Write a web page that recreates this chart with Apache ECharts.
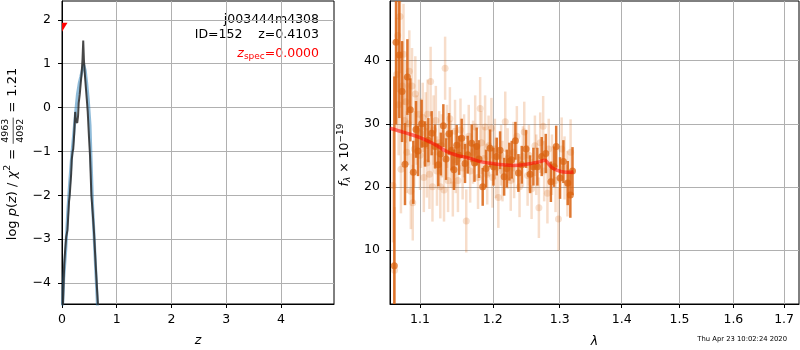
<!DOCTYPE html>
<html>
<head>
<meta charset="utf-8">
<script src="https://cdn.jsdelivr.net/npm/echarts@6/dist/echarts.min.js"></script>
<style>
html, body { margin: 0; padding: 0; background: #fff; }
#chart { width: 800px; height: 350px; }
</style>
</head>
<body>
<div id="chart"></div>
<script>
// ---- p(z) panel -------------------------------------------------------
const pzZ = [0.013, 0.018, 0.040, 0.055, 0.077, 0.099, 0.113, 0.128, 0.141, 0.168, 0.177, 0.194, 0.205,
  0.223, 0.241, 0.254, 0.278, 0.293, 0.305, 0.324, 0.342, 0.360, 0.375, 0.388, 0.400, 0.415, 0.433,
  0.452, 0.470, 0.494, 0.512, 0.537, 0.561, 0.585, 0.616, 0.638, 0.653, 0.662];
const pzLog = [-4.6, -4.45, -3.6, -3.3, -2.95, -2.8, -2.5, -2.15, -2.0, -1.5, -1.2, -1.0, -0.95,
  -0.6, -0.1, -0.3, -0.35, -0.2, 0.1, 0.3, 0.55, 0.8, 1.1, 1.53, 1.1, 0.8, 0.5,
  0.2, -0.1, -0.7, -1.1, -2.0, -2.4, -2.85, -3.6, -4.1, -4.1, -4.6];

const priorZ = [0.009, 0.031, 0.068, 0.104, 0.141, 0.177, 0.214, 0.250, 0.282, 0.314, 0.342, 0.369,
  0.397, 0.424, 0.452, 0.479, 0.512, 0.534, 0.561, 0.589, 0.616, 0.640, 0.653];
const priorLog = [-4.6, -3.9, -3.25, -2.4, -1.7, -1.1, -0.6, -0.1, 0.3, 0.55, 0.7, 0.85,
  0.98, 0.85, 0.55, 0.2, -0.4, -1.3, -2.3, -3.0, -3.7, -4.3, -4.7];

const zSpec = [0.0, 1.83];
const zTicks = [0, 1, 2, 3, 4];
const logpTicks = [-4, -3, -2, -1, 0, 1, 2];

// ---- spectrum panel ---------------------------------------------------
const darkWave = [1.0667, 1.0689, 1.0731, 1.0766, 1.0804, 1.0835, 1.0873, 1.0912, 1.0947, 1.0973,
  1.1021, 1.1066, 1.1110, 1.1154, 1.1199, 1.1243, 1.1277, 1.1311, 1.1347, 1.1388, 1.1424, 1.1456,
  1.1493, 1.1527, 1.1562, 1.1608, 1.1645, 1.1701, 1.1740, 1.1771, 1.1804, 1.1856, 1.1904, 1.1961,
  1.2009, 1.2057, 1.2105, 1.2164, 1.2202, 1.2240, 1.2275, 1.2329, 1.2373, 1.2423, 1.2487, 1.2547,
  1.2597, 1.2657, 1.2723, 1.2785, 1.2863, 1.2912, 1.2945, 1.3005, 1.3057, 1.3125, 1.3166, 1.3200];
const darkFlux = [7.5, 42.9, 40.9, 35.1, 23.6, 37.4, 32.2, 22.3, 29.1, 25.7,
  30.0, 26.8, 27.4, 28.5, 26.4, 23.5, 25.2, 29.7, 24.4, 28.4, 25.8, 22.7,
  26.6, 25.0, 27.7, 23.7, 25.1, 26.9, 23.8, 26.4, 24.4, 20.0, 22.9, 26.1,
  23.2, 24.8, 25.8, 21.6, 22.9, 24.0, 24.3, 27.3, 22.2, 23.5, 26.0, 22.0,
  23.2, 23.2, 24.8, 25.3, 20.8, 23.2, 26.4, 21.4, 24.0, 20.6, 18.7, 22.5];
const darkErr = [30, 13, 10, 8, 6.5, 6, 5, 5, 4.5, 4,
  3.8, 3.6, 3.5, 3.5, 3.5, 3.4, 3.4, 3.4, 3.3, 3.3, 3.2, 3.2,
  3.2, 3.1, 3.1, 3.1, 3.0, 3.0, 3.0, 3.0, 3.0, 3.0, 3.0, 3.0,
  3.0, 3.0, 3.0, 3.0, 3.0, 3.0, 3.0, 3.0, 3.0, 3.0, 3.0, 3.0,
  3.0, 3.0, 3.1, 3.1, 3.2, 3.2, 3.3, 3.3, 3.4, 3.5, 3.6, 3.8];

const lightWave = [1.0650, 1.0670, 1.0695, 1.0710, 1.0722, 1.0740, 1.0752, 1.0770, 1.0785, 1.0798,
  1.0815, 1.0828, 1.0848, 1.0860, 1.0880, 1.0895, 1.0905, 1.0925, 1.0938, 1.0958, 1.0985, 1.1000,
  1.1012, 1.1035, 1.1050, 1.1075, 1.1090, 1.1100, 1.1125, 1.1140, 1.1165, 1.1180, 1.1210, 1.1225,
  1.1255, 1.1270, 1.1290, 1.1320, 1.1335, 1.1360, 1.1375, 1.1400, 1.1415, 1.1440, 1.1470, 1.1480,
  1.1510, 1.1545, 1.1575, 1.1595, 1.1625, 1.1660, 1.1680, 1.1720, 1.1750, 1.1790, 1.1820, 1.1840,
  1.1875, 1.1890, 1.1920, 1.1940, 1.1980, 1.1995, 1.2030, 1.2045, 1.2080, 1.2120, 1.2140, 1.2180,
  1.2215, 1.2260, 1.2300, 1.2310, 1.2350, 1.2390, 1.2440, 1.2460, 1.2510, 1.2530, 1.2570, 1.2620,
  1.2640, 1.2680, 1.2700, 1.2745, 1.2760, 1.2810, 1.2830, 1.2880, 1.2935, 1.2980, 1.3030, 1.3075,
  1.3120, 1.3170];
const lightFlux = [20.2, 6.8, 37.8, 44.0, 33.0, 47.0, 22.8, 36.0, 41.0, 30.5,
  33.5, 25.5, 30.0, 38.3, 19.3, 36.0, 17.5, 26.0, 34.7, 29.0, 31.5, 25.0,
  28.5, 31.0, 21.5, 29.5, 23.8, 31.5, 22.0, 36.7, 20.0, 29.0, 30.5, 22.5,
  27.0, 20.0, 26.5, 19.5, 38.8, 28.0, 21.0, 30.8, 25.5, 20.3, 28.8, 24.0,
  21.0, 29.0, 23.0, 26.5, 14.6, 28.0, 22.5, 25.5, 29.5, 21.5, 32.4, 27.0,
  24.5, 29.5, 22.0, 26.5, 29.3, 21.5, 26.0, 23.0, 18.3, 25.0, 22.5, 30.3,
  24.5, 21.0, 25.5, 23.0, 28.0, 20.0, 24.8, 28.7, 21.8, 25.0, 19.7, 26.5,
  23.5, 16.7, 27.0, 29.6, 22.5, 19.0, 26.0, 23.5, 21.0, 14.9, 26.0, 23.0,
  20.5, 25.5];
const lightErr = [9, 10, 9, 9, 8, 9, 7, 7, 8, 7,
  6.5, 6.5, 6.5, 6.5, 6, 6, 6, 6, 6, 5.5, 5.5, 5.5,
  5.5, 5.5, 5.5, 5.5, 5.5, 5.5, 5.5, 5.5, 5.5, 5.5, 5.5, 5.5,
  5, 5, 5, 5, 5, 5, 5, 5, 5, 5, 5, 5,
  5, 5, 5, 5, 5, 5, 5, 5, 5, 5, 5, 5,
  5, 5, 4.8, 4.8, 4.8, 4.8, 4.8, 4.8, 4.8, 4.8, 4.8, 4.8,
  4.8, 4.8, 4.8, 4.8, 4.8, 4.8, 4.8, 4.8, 4.8, 4.8, 4.8, 4.8,
  4.8, 4.8, 4.8, 4.8, 4.8, 4.8, 4.8, 4.8, 5, 5, 5, 5,
  5.2, 5.2];

const modelWave = [1.0610, 1.0634, 1.0800, 1.1000, 1.1200, 1.1357, 1.1500, 1.1650, 1.1819, 1.2000,
  1.2151, 1.2300, 1.2447, 1.2600, 1.2700, 1.2770, 1.2830, 1.2900, 1.3032, 1.3150, 1.3214];
const modelFlux = [29.3, 29.2, 28.6, 27.8, 26.7, 25.6, 25.0, 24.6, 24.0, 23.7,
  23.5, 23.4, 23.5, 23.8, 24.0, 24.2, 23.6, 22.9, 22.4, 22.3, 22.4];

const waveTicks = [1.1, 1.2, 1.3, 1.4, 1.5, 1.6, 1.7];
const fluxTicks = [10, 20, 30, 40];

// ---- helpers ------------------------------------------------------------
const FONT = '"DejaVu Sans", sans-serif';
const FS = 12.5;
const ORANGE = '217,98,15';
const lg = Math.log10;

// wavelength axis is logarithmic: plot log10(lambda) on a value axis
const toXY = (xs, ys) => xs.map((x, i) => [lg(x), ys[i]]);
const toXYE = (xs, ys, es) => xs.map((x, i) => [lg(x), ys[i], es[i]]);
const pairs = (xs, ys) => xs.map((x, i) => [x, ys[i]]);

const FLUX_MIN = 1.44, FLUX_MAX = 49.45;

const ctx2d = document.createElement('canvas').getContext('2d');
function fontOf(size, italic) { return (italic ? 'italic ' : '') + size + 'px ' + FONT; }
function textWidth(t, size, italic) { ctx2d.font = fontOf(size, italic); return ctx2d.measureText(t).width; }
function txt(t, x, y, size, italic, color, align) {
  return {
    type: 'text', x: x, y: y, silent: true,
    style: {
      text: t, font: fontOf(size, italic), fill: color,
      textAlign: align || 'left', textVerticalAlign: 'middle',
      align: align || 'left', verticalAlign: 'middle'
    }
  };
}
// label made of pieces (italic, sub/superscripts, stacked fractions)
function mathLabel(pieces, x, y, opt) {
  opt = opt || {};
  const base = opt.size || FS;
  const kids = [];
  let cx = 0;
  pieces.forEach(p => {
    const size = p.size || base;
    const color = p.color || opt.color || '#000';
    if (p.num !== undefined) {
      const w = Math.max(textWidth(p.num, size), textWidth(p.den, size)) + 2;
      kids.push(txt(p.num, cx + w / 2, -0.55 * base, size, false, color, 'center'));
      kids.push(txt(p.den, cx + w / 2, 0.6 * base, size, false, color, 'center'));
      kids.push({ type: 'line', silent: true, shape: { x1: cx, y1: 0.2, x2: cx + w, y2: 0.2 },
        style: { stroke: color, lineWidth: 0.7 } });
      cx += w;
    } else if (p.gap !== undefined) {
      cx += p.gap;
    } else {
      kids.push(txt(p.t, cx, p.dy || 0, size, p.italic, color, 'left'));
      cx += textWidth(p.t, size, p.italic);
    }
  });
  const shift = opt.align === 'right' ? -cx : opt.align === 'center' ? -cx / 2 : 0;
  kids.forEach(k => {
    if (k.type === 'line') { k.shape.x1 += shift; k.shape.x2 += shift; }
    else k.x += shift;
  });
  return { type: 'group', x: x, y: y, rotation: opt.rotation || 0, silent: true, children: kids };
}

function errorBars(data, color, width) {
  return {
    type: 'custom', xAxisIndex: 1, yAxisIndex: 1, clip: true, z: 2,
    data: data,
    renderItem: function (params, api) {
      const x = api.value(0), y = api.value(1), e = api.value(2);
      const hi = Math.min(y + e, FLUX_MAX), lo = Math.max(y - e, FLUX_MIN);
      const p1 = api.coord([x, hi]), p2 = api.coord([x, lo]);
      return { type: 'line', shape: { x1: p1[0], y1: p1[1], x2: p2[0], y2: p2[1] },
        style: { stroke: color, lineWidth: width } };
    }
  };
}

const minus = v => String(v).replace('-', '\u2212');
const tickStyle = { show: true, length: 4, inside: false, lineStyle: { color: '#000', width: 1 } };
const gridLine = { show: true, lineStyle: { color: '#b0b0b0', width: 1 } };
const axisLine = { show: true, onZero: false, lineStyle: { color: '#000', width: 1 } };
const labelBase = { color: '#000', fontSize: FS, fontFamily: FONT };
const gridBase = { top: 1, height: 303, show: true, borderColor: '#000', borderWidth: 1,
  backgroundColor: 'transparent', containLabel: false, outerBoundsMode: 'none' };

const option = {
  animation: false,
  backgroundColor: '#fff',
  grid: [
    Object.assign({ left: 62, width: 272 }, gridBase),
    Object.assign({ left: 390, width: 409 }, gridBase)
  ],
  xAxis: [
    {
      type: 'value', gridIndex: 0, min: 0, max: 4.97,
      axisLine: axisLine,
      axisTick: Object.assign({ customValues: zTicks }, tickStyle),
      axisLabel: Object.assign({ customValues: zTicks, margin: 9, formatter: minus }, labelBase),
      splitLine: gridLine,
      name: 'z', nameLocation: 'middle', nameGap: 30,
      nameTextStyle: { fontSize: FS, fontStyle: 'italic', fontFamily: FONT, color: '#000' }
    },
    {
      type: 'value', gridIndex: 1, min: lg(1.0612), max: lg(1.7306),
      axisLine: axisLine,
      axisTick: Object.assign({ customValues: waveTicks.map(lg) }, tickStyle),
      axisLabel: Object.assign({
        customValues: waveTicks.map(lg), margin: 9,
        formatter: v => Math.pow(10, v).toFixed(1)
      }, labelBase),
      splitLine: gridLine,
      name: '\u03bb', nameLocation: 'middle', nameGap: 31,
      nameTextStyle: { fontSize: FS, fontStyle: 'italic', fontFamily: FONT, color: '#000' }
    }
  ],
  yAxis: [
    {
      type: 'value', gridIndex: 0, min: -4.48, max: 2.43,
      axisLine: axisLine,
      axisTick: Object.assign({ customValues: logpTicks }, tickStyle),
      axisLabel: Object.assign({ customValues: logpTicks, margin: 11, formatter: minus }, labelBase),
      splitLine: gridLine
    },
    {
      type: 'value', gridIndex: 1, min: FLUX_MIN, max: FLUX_MAX,
      axisLine: axisLine,
      axisTick: Object.assign({ customValues: fluxTicks }, tickStyle),
      axisLabel: Object.assign({ customValues: fluxTicks, margin: 10 }, labelBase),
      splitLine: gridLine
    }
  ],
  series: [
    {
      type: 'line', xAxisIndex: 0, yAxisIndex: 0, data: pairs(priorZ, priorLog),
      showSymbol: false, clip: true, smooth: false, z: 2,
      lineStyle: { color: 'rgba(31,119,180,0.5)', width: 3 }
    },
    {
      type: 'line', xAxisIndex: 0, yAxisIndex: 0, data: pairs(pzZ, pzLog),
      showSymbol: false, clip: true, smooth: false, z: 3,
      lineStyle: { color: 'rgba(40,40,40,0.85)', width: 2 }
    },
    {
      // spectroscopic redshift marker, a downward triangle clipped by the frame
      type: 'custom', xAxisIndex: 0, yAxisIndex: 0, data: [zSpec], clip: true, z: 4,
      renderItem: function (params, api) {
        const p = api.coord([api.value(0), api.value(1)]);
        return { type: 'polygon',
          shape: { points: [[p[0] - 5.5, p[1] - 4.5], [p[0] + 5.5, p[1] - 4.5], [p[0], p[1] + 4.5]] },
          style: { fill: '#ff0000' } };
      }
    },
    errorBars(toXYE(lightWave, lightFlux, lightErr), 'rgba(' + ORANGE + ',0.22)', 2.5),
    {
      type: 'scatter', xAxisIndex: 1, yAxisIndex: 1, data: toXY(lightWave, lightFlux), clip: true, z: 3,
      symbol: 'circle', symbolSize: 7,
      itemStyle: { color: 'rgba(' + ORANGE + ',0.25)' }
    },
    errorBars(toXYE(darkWave, darkFlux, darkErr), 'rgba(' + ORANGE + ',0.85)', 2.5),
    {
      type: 'scatter', xAxisIndex: 1, yAxisIndex: 1, data: toXY(darkWave, darkFlux), clip: true, z: 4,
      symbol: 'circle', symbolSize: 7,
      itemStyle: { color: 'rgba(' + ORANGE + ',0.9)' }
    },
    {
      type: 'line', xAxisIndex: 1, yAxisIndex: 1, data: toXY(modelWave, modelFlux),
      showSymbol: false, clip: true, smooth: true, z: 5,
      lineStyle: { color: 'rgba(255,0,0,0.55)', width: 3.5 }
    }
  ],
  graphic: [
    txt('j003444m4308', 319, 20, FS, false, '#000', 'right'),
    txt('ID=152    z=0.4103', 319, 35, FS, false, '#000', 'right'),
    mathLabel([
      { t: 'z', italic: true },
      { t: 'spec', size: 9, dy: 3 },
      { t: '=0.0000' }
    ], 319, 54, { align: 'right', color: '#ff0000' }),
    mathLabel([
      { t: 'log ' },
      { t: 'p', italic: true },
      { t: '(' },
      { t: 'z', italic: true },
      { t: ') / ' },
      { t: '\u03c7', italic: true },
      { t: '2', size: 9.5, dy: -5 },
      { gap: 5 }, { t: '=' }, { gap: 5 },
      { num: '4963', den: '4092', size: 9.5 },
      { gap: 5 }, { t: '=' }, { gap: 5 },
      { t: '1.21' }
    ], 13, 154, { align: 'center', rotation: Math.PI / 2, size: 13 }),
    mathLabel([
      { t: 'f', italic: true },
      { t: '\u03bb', italic: true, size: 9, dy: 3 },
      { t: ' \u00d7 10' },
      { t: '\u221219', size: 9, dy: -4.5 }
    ], 345, 155, { align: 'center', rotation: Math.PI / 2 }),
    txt('Thu Apr 23 10:02:24 2020', 787, 339, 6.8, false, '#000', 'right')
  ]
};

const chart = echarts.init(document.getElementById('chart'), null, { renderer: 'canvas' });
chart.setOption(option);
</script>
</body>
</html>
